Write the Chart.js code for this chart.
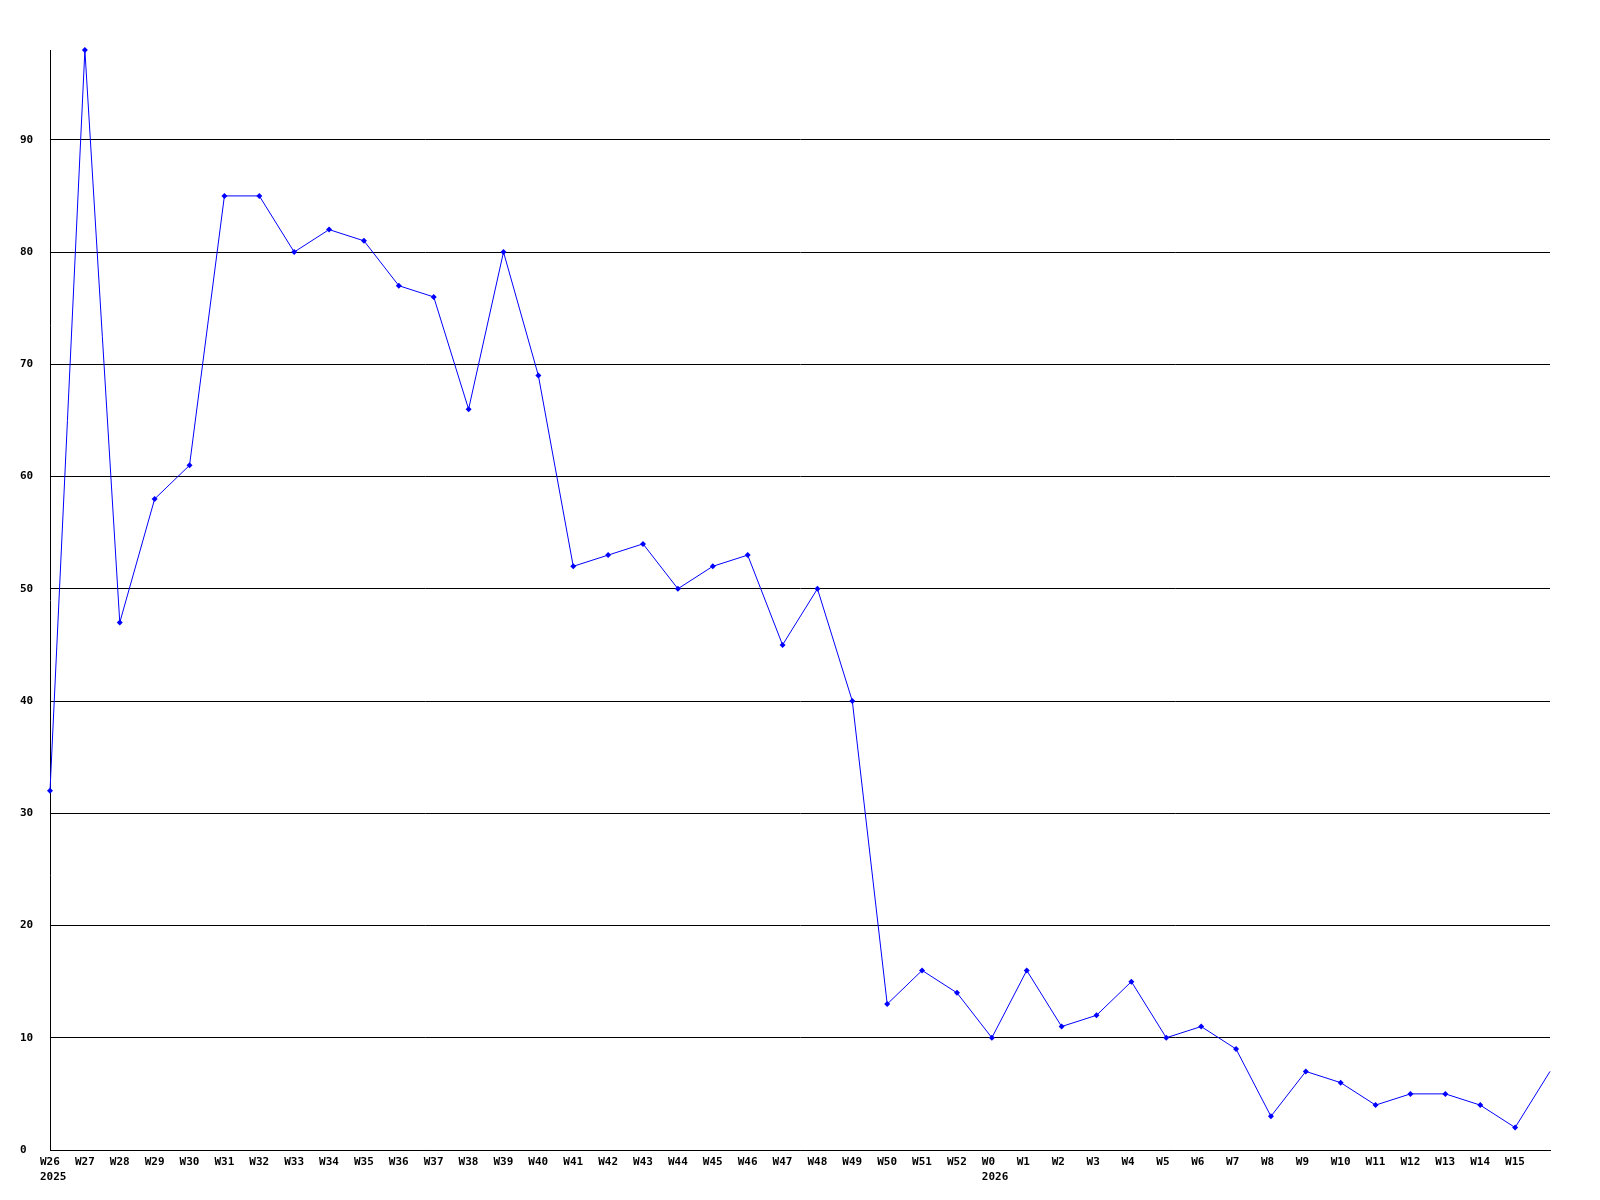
<!DOCTYPE html>
<html>
<head>
<meta charset="utf-8">
<title>Weekly count</title>
<script src="https://cdn.jsdelivr.net/npm/chart.js@4/dist/chart.umd.min.js"></script>
<style>
  body { margin: 0; background: #fff; }
  canvas { display: block; }
</style>
</head>
<body>
<canvas id="weekChart" width="1600" height="1200"></canvas>
<script>
// Week labels (last point has no label)
const weeks = [
  "W26", "W27", "W28", "W29", "W30", "W31", "W32", "W33", "W34", "W35",
  "W36", "W37", "W38", "W39", "W40", "W41", "W42", "W43", "W44", "W45",
  "W46", "W47", "W48", "W49", "W50", "W51", "W52",
  "W0", "W1", "W2", "W3", "W4", "W5", "W6", "W7", "W8", "W9", "W10",
  "W11", "W12", "W13", "W14", "W15", ""
];

// Year shown under the first week of each year
const years = { 0: "2025", 27: "2026" };

// Counts per week
const counts = [
  32, 98, 47, 58, 61, 85, 85, 80, 82, 81,
  77, 76, 66, 80, 69, 52, 53, 54, 50, 52,
  53, 45, 50, 40, 13, 16, 14,
  10, 16, 11, 12, 15, 10, 11, 9, 3, 7, 6,
  4, 5, 5, 4, 2, 7
];

const yMax = 98;
const tickFont = { family: "DejaVu Sans Mono", size: 11, weight: "bold" };

// Labels are drawn left aligned, a bit left of the point
const weekLabels = {
  id: "weekLabels",
  afterDraw(chart) {
    const ctx = chart.ctx;
    const x = chart.scales.x;
    ctx.save();
    ctx.font = "bold 11px 'DejaVu Sans Mono'";
    ctx.fillStyle = "#000";
    ctx.textAlign = "left";
    ctx.textBaseline = "middle";
    weeks.forEach((w, i) => {
      const px = x.getPixelForValue(i) - 10;
      ctx.fillText(w, px, x.top + 12);
      if (years[i]) ctx.fillText(years[i], px, x.top + 27);
    });
    ctx.restore();
  },
};

const ctx = document.getElementById("weekChart").getContext("2d");
const chart = new Chart(ctx, {
  type: "line",
  data: {
    labels: weeks,
    datasets: [
      {
        data: counts,
        borderColor: "#0000ff",
        backgroundColor: "#0000ff",
        borderWidth: 1,
        pointStyle: "rectRot",
        pointRadius: counts.map((v, i) => (i === counts.length - 1 ? 0 : 3)),
        pointBorderWidth: 0,
        tension: 0,
        clip: false,
      },
    ],
  },
  options: {
    responsive: false,
    devicePixelRatio: 1,
    animation: false,
    layout: { padding: { left: 20, top: 50, right: 50, bottom: 0 } },
    plugins: { legend: { display: false }, tooltip: { enabled: false } },
    scales: {
      x: {
        type: "category",
        offset: false,
        grid: { display: false, drawTicks: false },
        border: { display: true, color: "#000", width: 1 },
        ticks: { display: false },
        afterFit: (s) => { s.height = 50; },
      },
      y: {
        min: 0,
        max: yMax,
        grid: { color: "#000", lineWidth: 1, drawTicks: false },
        border: { display: true, color: "#000", width: 1 },
        ticks: {
          stepSize: 10,
          includeBounds: false,
          color: "#000",
          font: tickFont,
          crossAlign: "far",
          padding: 0,
        },
        afterFit: (s) => { s.width = 30; },
      },
    },
  },
  plugins: [weekLabels],
});
</script>
</body>
</html>
